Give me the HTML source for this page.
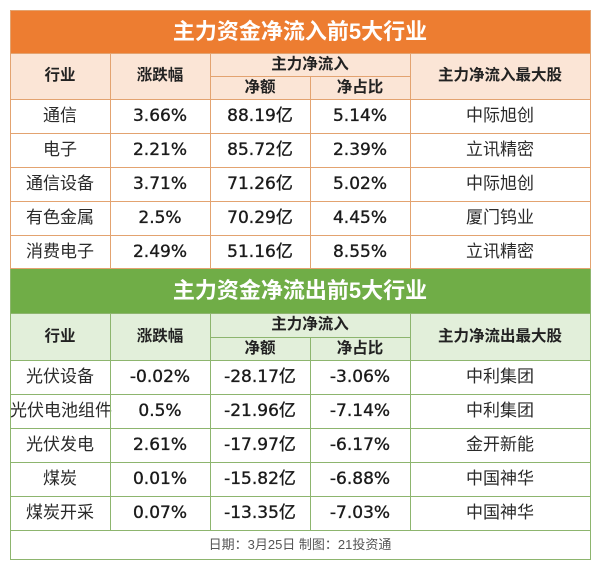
<!DOCTYPE html>
<html><head><meta charset="utf-8">
<style>
html,body{margin:0;padding:0;background:#fff;}
body{width:600px;height:569px;position:relative;overflow:hidden;font-family:"Liberation Sans","Noto Sans CJK SC",sans-serif;}
.c{position:absolute;text-align:center;white-space:nowrap;overflow:visible;}
.r{height:34px;line-height:34px;}
.h{position:absolute;height:1px;}
.v{position:absolute;width:1px;}
.o{background:#E3A370;}
.g{background:#8DB56E;}
.title{color:#fff;font-weight:bold;font-size:22px;}
.hd{font-weight:bold;font-size:15.5px;color:#222;}
.cn{font-size:17px;color:#2a2a2a;}
.num{font-size:17px;color:#1a1a1a;font-family:"DejaVu Sans","Noto Sans CJK SC",sans-serif;-webkit-text-stroke:0.35px #1a1a1a;}
.ft{font-size:13px;color:#555;}
</style></head><body>

<!-- Orange section backgrounds -->
<div class="c title" style="left:10px;top:10px;width:580px;height:43px;line-height:43px;background:#ED7D31;">主力资金净流入前5大行业</div>
<div style="position:absolute;left:10px;top:53px;width:580px;height:46px;background:#FBE5D6;"></div>

<!-- Green section backgrounds -->
<div class="c title" style="left:10px;top:269px;width:580px;height:44px;line-height:44px;background:#70AD47;">主力资金净流出前5大行业</div>
<div style="position:absolute;left:10px;top:313px;width:580px;height:47px;background:#E2EFDA;"></div>

<!-- Orange headers -->
<div class="c hd" style="left:10px;top:53px;width:100px;height:46px;line-height:46px;">行业</div>
<div class="c hd" style="left:110px;top:53px;width:100px;height:46px;line-height:46px;">涨跌幅</div>
<div class="c hd" style="left:210px;top:53px;width:200px;height:23px;line-height:23px;">主力净流入</div>
<div class="c hd" style="left:210px;top:76px;width:100px;height:23px;line-height:23px;">净额</div>
<div class="c hd" style="left:310px;top:76px;width:100px;height:23px;line-height:23px;">净占比</div>
<div class="c hd" style="left:410px;top:53px;width:180px;height:46px;line-height:46px;">主力净流入最大股</div>

<!-- Orange rows -->
<div class="c r cn" style="left:10px;top:99px;width:100px;">通信</div>
<div class="c r num" style="left:110px;top:99px;width:100px;">3.66%</div>
<div class="c r num" style="left:210px;top:99px;width:100px;">88.19亿</div>
<div class="c r num" style="left:310px;top:99px;width:100px;">5.14%</div>
<div class="c r cn" style="left:410px;top:99px;width:180px;">中际旭创</div>

<div class="c r cn" style="left:10px;top:133px;width:100px;">电子</div>
<div class="c r num" style="left:110px;top:133px;width:100px;">2.21%</div>
<div class="c r num" style="left:210px;top:133px;width:100px;">85.72亿</div>
<div class="c r num" style="left:310px;top:133px;width:100px;">2.39%</div>
<div class="c r cn" style="left:410px;top:133px;width:180px;">立讯精密</div>

<div class="c r cn" style="left:10px;top:167px;width:100px;">通信设备</div>
<div class="c r num" style="left:110px;top:167px;width:100px;">3.71%</div>
<div class="c r num" style="left:210px;top:167px;width:100px;">71.26亿</div>
<div class="c r num" style="left:310px;top:167px;width:100px;">5.02%</div>
<div class="c r cn" style="left:410px;top:167px;width:180px;">中际旭创</div>

<div class="c r cn" style="left:10px;top:201px;width:100px;">有色金属</div>
<div class="c r num" style="left:110px;top:201px;width:100px;">2.5%</div>
<div class="c r num" style="left:210px;top:201px;width:100px;">70.29亿</div>
<div class="c r num" style="left:310px;top:201px;width:100px;">4.45%</div>
<div class="c r cn" style="left:410px;top:201px;width:180px;">厦门钨业</div>

<div class="c r cn" style="left:10px;top:235px;width:100px;">消费电子</div>
<div class="c r num" style="left:110px;top:235px;width:100px;">2.49%</div>
<div class="c r num" style="left:210px;top:235px;width:100px;">51.16亿</div>
<div class="c r num" style="left:310px;top:235px;width:100px;">8.55%</div>
<div class="c r cn" style="left:410px;top:235px;width:180px;">立讯精密</div>

<!-- Green headers -->
<div class="c hd" style="left:10px;top:313px;width:100px;height:47px;line-height:47px;">行业</div>
<div class="c hd" style="left:110px;top:313px;width:100px;height:47px;line-height:47px;">涨跌幅</div>
<div class="c hd" style="left:210px;top:313px;width:200px;height:24px;line-height:24px;">主力净流入</div>
<div class="c hd" style="left:210px;top:337px;width:100px;height:23px;line-height:23px;">净额</div>
<div class="c hd" style="left:310px;top:337px;width:100px;height:23px;line-height:23px;">净占比</div>
<div class="c hd" style="left:410px;top:313px;width:180px;height:47px;line-height:47px;">主力净流出最大股</div>

<!-- Green rows -->
<div class="c r cn" style="left:10px;top:360px;width:100px;">光伏设备</div>
<div class="c r num" style="left:110px;top:360px;width:100px;">-0.02%</div>
<div class="c r num" style="left:210px;top:360px;width:100px;">-28.17亿</div>
<div class="c r num" style="left:310px;top:360px;width:100px;">-3.06%</div>
<div class="c r cn" style="left:410px;top:360px;width:180px;">中利集团</div>

<div class="c r cn" style="left:10px;top:394px;width:100px;">光伏电池组件</div>
<div class="c r num" style="left:110px;top:394px;width:100px;">0.5%</div>
<div class="c r num" style="left:210px;top:394px;width:100px;">-21.96亿</div>
<div class="c r num" style="left:310px;top:394px;width:100px;">-7.14%</div>
<div class="c r cn" style="left:410px;top:394px;width:180px;">中利集团</div>

<div class="c r cn" style="left:10px;top:428px;width:100px;">光伏发电</div>
<div class="c r num" style="left:110px;top:428px;width:100px;">2.61%</div>
<div class="c r num" style="left:210px;top:428px;width:100px;">-17.97亿</div>
<div class="c r num" style="left:310px;top:428px;width:100px;">-6.17%</div>
<div class="c r cn" style="left:410px;top:428px;width:180px;">金开新能</div>

<div class="c r cn" style="left:10px;top:462px;width:100px;">煤炭</div>
<div class="c r num" style="left:110px;top:462px;width:100px;">0.01%</div>
<div class="c r num" style="left:210px;top:462px;width:100px;">-15.82亿</div>
<div class="c r num" style="left:310px;top:462px;width:100px;">-6.88%</div>
<div class="c r cn" style="left:410px;top:462px;width:180px;">中国神华</div>

<div class="c r cn" style="left:10px;top:496px;width:100px;">煤炭开采</div>
<div class="c r num" style="left:110px;top:496px;width:100px;">0.07%</div>
<div class="c r num" style="left:210px;top:496px;width:100px;">-13.35亿</div>
<div class="c r num" style="left:310px;top:496px;width:100px;">-7.03%</div>
<div class="c r cn" style="left:410px;top:496px;width:180px;">中国神华</div>

<div class="c ft" style="left:10px;top:530px;width:580px;height:29px;line-height:29px;">日期：3月25日 制图：21投资通</div>

<!-- Orange lines -->
<div class="h o" style="left:10px;top:10px;width:581px;"></div>
<div class="h o" style="left:10px;top:53px;width:581px;"></div>
<div class="h o" style="left:210px;top:76px;width:200px;"></div>
<div class="h o" style="left:10px;top:99px;width:581px;"></div>
<div class="h o" style="left:10px;top:133px;width:581px;"></div>
<div class="h o" style="left:10px;top:167px;width:581px;"></div>
<div class="h o" style="left:10px;top:201px;width:581px;"></div>
<div class="h o" style="left:10px;top:235px;width:581px;"></div>
<div class="h o" style="left:10px;top:268px;width:581px;"></div>
<div class="v o" style="left:10px;top:10px;height:259px;"></div>
<div class="v o" style="left:590px;top:10px;height:259px;"></div>
<div class="v o" style="left:110px;top:53px;height:216px;"></div>
<div class="v o" style="left:210px;top:53px;height:216px;"></div>
<div class="v o" style="left:310px;top:76px;height:193px;"></div>
<div class="v o" style="left:410px;top:53px;height:216px;"></div>

<!-- Green lines -->
<div class="h g" style="left:10px;top:313px;width:581px;"></div>
<div class="h g" style="left:210px;top:337px;width:200px;"></div>
<div class="h g" style="left:10px;top:360px;width:581px;"></div>
<div class="h g" style="left:10px;top:394px;width:581px;"></div>
<div class="h g" style="left:10px;top:428px;width:581px;"></div>
<div class="h g" style="left:10px;top:462px;width:581px;"></div>
<div class="h g" style="left:10px;top:496px;width:581px;"></div>
<div class="h g" style="left:10px;top:530px;width:581px;"></div>
<div class="h g" style="left:10px;top:559px;width:581px;"></div>
<div class="v g" style="left:10px;top:269px;height:291px;"></div>
<div class="v g" style="left:590px;top:269px;height:291px;"></div>
<div class="v g" style="left:110px;top:313px;height:217px;"></div>
<div class="v g" style="left:210px;top:313px;height:217px;"></div>
<div class="v g" style="left:310px;top:337px;height:193px;"></div>
<div class="v g" style="left:410px;top:313px;height:217px;"></div>

</body></html>
